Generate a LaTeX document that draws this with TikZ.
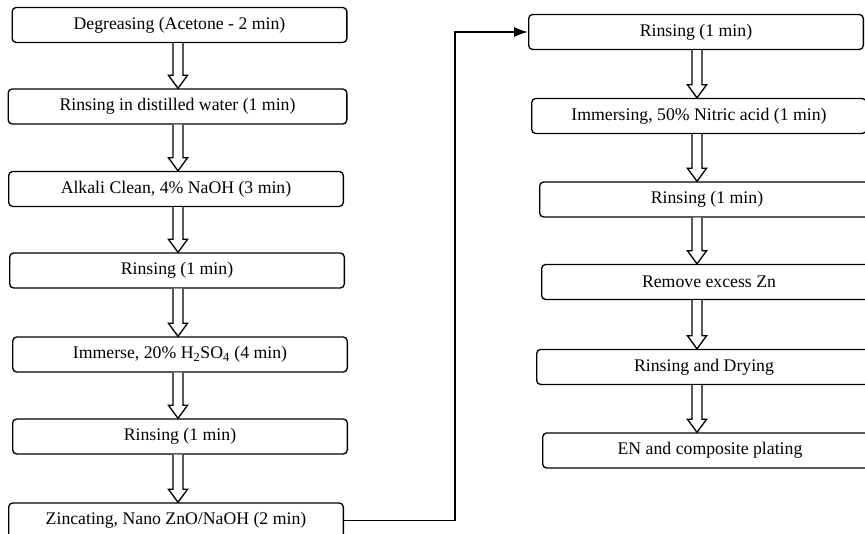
\documentclass[tikz,border=0pt]{standalone}
\usepackage{fontspec}
\setmainfont{Liberation Serif}
\usetikzlibrary{calc,arrows.meta}
\newcommand{\hollowarrow}[3]{%
	\draw[fill=white] ($(#1.south -| #3)+(-5,0)$) -- ($(#2.north -| #3)+(-5,-13)$) -- ($(#2.north -| #3)+(-9.5,-13)$) -- (#2.north -| #3) -- ($(#2.north -| #3)+(9.5,-13)$) -- ($(#2.north -| #3)+(5,-13)$) -- ($(#1.south -| #3)+(5,0)$);}
\begin{document}
\begin{tikzpicture}[x=0.75pt,y=-0.75pt,line width=1pt,
	stepbox/.style={rectangle,draw,rounded corners=3pt,minimum width=251pt,minimum height=26.25pt,inner sep=0pt,font=\fontsize{13.3}{16}\selectfont}]
	\path[use as bounding box,clip] (0,0) rectangle (865,534);
	\coordinate (laxis) at (178,0);
	\coordinate (raxis) at (697,0);
	\node[stepbox](l1) at (179.5,25){Degreasing (Acetone - 2 min)};
	\node[stepbox,minimum width=254pt](l2) at (177.5,106.5){Rinsing in distilled water (1 min)};
	\node[stepbox](l3) at (176,189){Alkali Clean, 4\% NaOH (3 min)};
	\node[stepbox](l4) at (177,270.5){Rinsing (1 min)};
	\node[stepbox](l5) at (180,354.5){Immerse, 20\% H\textsubscript{2}SO\textsubscript{4} (4 min)};
	\node[stepbox](l6) at (180,436.5){Rinsing (1 min)};
	\node[stepbox](l7) at (176,520.5){Zincating, Nano ZnO/NaOH (2 min)};
	\node[stepbox](r1) at (696,32){Rinsing (1 min)};
	\node[stepbox](r2) at (699,116){Immersing, 50\% Nitric acid (1 min)};
	\node[stepbox](r3) at (707,199.5){Rinsing (1 min)};
	\node[stepbox](r4) at (709,282){Remove excess Zn};
	\node[stepbox](r5) at (704,367){Rinsing and Drying};
	\node[stepbox](r6) at (710,450.5){EN and composite plating};
	\coordinate (bend) at (455,32);
	\hollowarrow{l1}{l2}{laxis}
	\hollowarrow{l2}{l3}{laxis}
	\hollowarrow{l3}{l4}{laxis}
	\hollowarrow{l4}{l5}{laxis}
	\hollowarrow{l5}{l6}{laxis}
	\hollowarrow{l6}{l7}{laxis}
	\hollowarrow{r1}{r2}{raxis}
	\hollowarrow{r2}{r3}{raxis}
	\hollowarrow{r3}{r4}{raxis}
	\hollowarrow{r4}{r5}{raxis}
	\hollowarrow{r5}{r6}{raxis}
	\draw[-{Latex[length=10.5pt,width=7.5pt]}](l7.east) -| (bend) -- (r1.west);
\end{tikzpicture}
\end{document}
